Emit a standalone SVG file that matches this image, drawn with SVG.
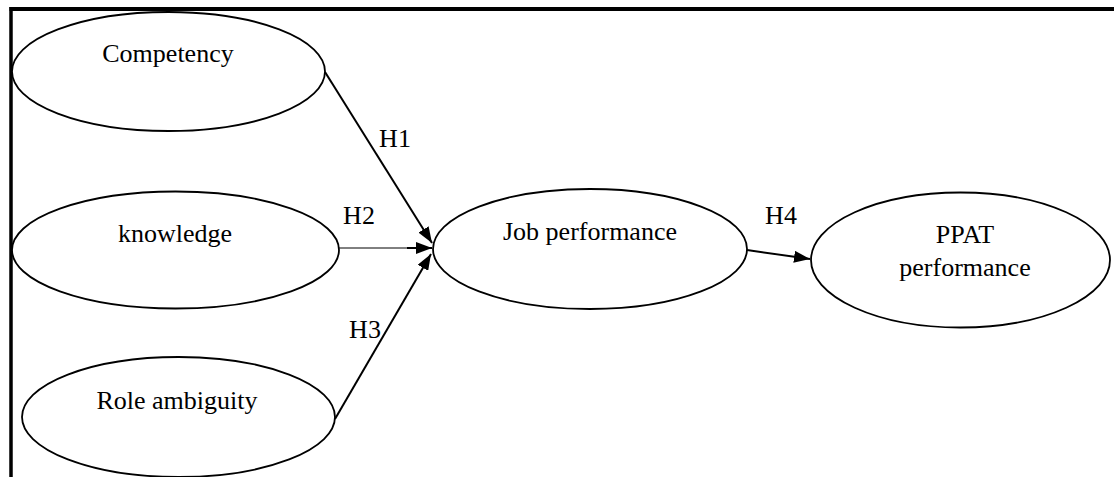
<svg xmlns="http://www.w3.org/2000/svg" width="1114" height="477" viewBox="0 0 1114 477">
  <style>
    .node ellipse { fill: #ffffff; stroke: #000000; stroke-width: 1.8; }
    .lbl { font-family: "Liberation Serif", "Times New Roman", serif; font-size: 26px; fill: #000000; text-anchor: middle; }
    .edge { stroke: #000000; stroke-width: 2; fill: none; }
    .thin { stroke: #000000; stroke-width: 1; fill: none; }
    .frame { stroke: #000000; fill: none; }
  </style>
  <defs>
    <marker id="arrow" markerUnits="userSpaceOnUse" markerWidth="16" markerHeight="12" refX="16" refY="6" orient="auto">
      <path d="M0,0 L16,6 L0,12 z" fill="#000000"/>
    </marker>
  </defs>
  <rect x="0" y="0" width="1114" height="477" fill="#ffffff"/>
  <g id="frame">
    <line class="frame" x1="9.5" y1="9" x2="1114" y2="9" stroke-width="4"/>
    <line class="frame" x1="11" y1="7" x2="11" y2="477" stroke-width="3.5"/>
  </g>
  <g id="connectors">
    <line class="edge" x1="325" y1="72" x2="432" y2="243" marker-end="url(#arrow)"/>
    <line class="thin" x1="339" y1="248" x2="432" y2="248"/>
    <line class="edge" x1="407" y1="248" x2="432" y2="248" marker-end="url(#arrow)"/>
    <line class="edge" x1="335" y1="419" x2="431" y2="254" marker-end="url(#arrow)"/>
    <line class="edge" x1="747" y1="250" x2="810" y2="259" marker-end="url(#arrow)"/>
    <text class="lbl" x="395" y="147">H1</text>
    <text class="lbl" x="359" y="224">H2</text>
    <text class="lbl" x="365" y="338">H3</text>
    <text class="lbl" x="781" y="224">H4</text>
  </g>
  <g id="competency" class="node">
    <ellipse cx="168.5" cy="71.5" rx="156.5" ry="59.5"/>
    <text class="lbl" x="168" y="62">Competency</text>
  </g>
  <g id="knowledge" class="node">
    <ellipse cx="175.5" cy="250" rx="163.5" ry="58.5"/>
    <text class="lbl" x="175" y="242">knowledge</text>
  </g>
  <g id="role-ambiguity" class="node">
    <ellipse cx="178.5" cy="417" rx="156.5" ry="60"/>
    <text class="lbl" x="177" y="409">Role ambiguity</text>
  </g>
  <g id="job-performance" class="node">
    <ellipse cx="590" cy="249" rx="157" ry="60"/>
    <text class="lbl" x="590" y="240">Job performance</text>
  </g>
  <g id="ppat-performance" class="node">
    <ellipse cx="960.5" cy="260" rx="149.5" ry="67.5"/>
    <text class="lbl" x="965" y="243">PPAT</text>
    <text class="lbl" x="965" y="276">performance</text>
  </g>
</svg>
